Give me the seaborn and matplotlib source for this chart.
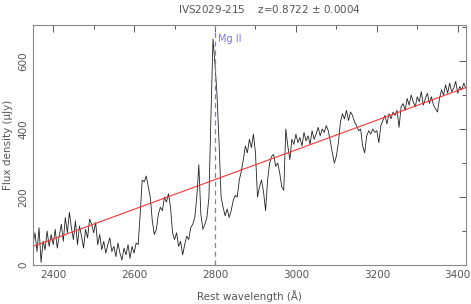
import numpy as np
import pandas as pd
import seaborn as sns
import matplotlib.pyplot as plt
from matplotlib.ticker import MultipleLocator

# espectro (passo de 5 A, de 2350 a 3420 A)
wave_start = 2350
wave_step = 5
flux = [
    60, 95, 40, 110, 8, 70, 45, 100, 55, 90,
    60, 105, 50, 85, 120, 70, 140, 95, 155, 110,
    75, 130, 60, 115, 85, 50, 105, 80, 135, 120,
    95, 125, 60, 90, 45, 70, 35, 60, 80, 40,
    55, 25, 65, 35, 15, 50, 30, 60, 20, 55,
    35, 65, 60, 150, 250, 245, 262, 230, 200, 130,
    90, 105, 150, 170, 160, 200, 185, 210, 170, 95,
    75, 95, 55, 70, 30, 60, 85, 75, 110, 120,
    140, 200, 295, 150, 105, 120, 140, 200, 440, 665,
    590, 500, 360, 200, 170, 145, 165, 140, 160, 190,
    205, 200, 250, 275, 310, 350, 330, 370, 345, 385,
    330, 200, 230, 250, 215, 160, 250, 300, 320, 325,
    290, 300, 270, 230, 220, 400, 350, 310, 370, 355,
    385, 360, 375, 350, 390, 365, 380, 355, 395, 370,
    385, 405, 380, 400, 390, 410, 395, 365, 330, 300,
    320, 360, 420, 445, 430, 455, 425, 450, 440, 420,
    410, 395, 400, 350, 330, 380, 395, 385, 400, 390,
    395, 360, 410, 425, 440, 415, 445, 430, 450, 440,
    455, 405, 465, 475, 455, 490, 470, 500, 480, 465,
    495, 480, 510, 470, 490, 505, 475, 495, 470, 460,
    450, 490, 515, 500, 530, 505, 535, 510, 520, 540,
    505, 525, 515, 535, 520,
]
wave = wave_start + wave_step * np.arange(len(flux))

# ajuste do continuo (reta)
cont_wave = [2350, 3420]
cont_flux = [55, 522]

line_wave = 2800
line_name = "Mg II"
title = "IVS2029-215    z=0.8722 $\\pm$ 0.0004"

df = pd.DataFrame({"wave": wave, "flux": flux})
df_cont = pd.DataFrame({"wave": cont_wave, "flux": cont_flux})

sns.set_style("white")
plt.rcParams['font.family'] = ['DejaVu Sans']
gray = "#555555"

fig = plt.figure(figsize=(4.71, 3.04), dpi=100)
ax = fig.add_axes([0.070, 0.128, 0.919, 0.790])

sns.lineplot(x="wave", y="flux", data=df, color="#222222", linewidth=0.6,
             estimator=None, sort=False, ax=ax)
sns.lineplot(x="wave", y="flux", data=df_cont, color="#ff3333", linewidth=0.8,
             estimator=None, ax=ax)
ax.axvline(line_wave, color="#7777ee", linestyle=(0, (4, 3)), linewidth=0.9)
ax.text(line_wave + 8, 665, line_name, color="#7777ee", fontsize=7,
        va="center", ha="left")

ax.set_xlim(2350, 3420)
ax.set_ylim(0, 706)
ax.xaxis.set_major_locator(MultipleLocator(200))
ax.xaxis.set_minor_locator(MultipleLocator(100))
ax.yaxis.set_major_locator(MultipleLocator(200))
ax.yaxis.set_minor_locator(MultipleLocator(100))
ax.tick_params(which="both", direction="in", top=True, right=True,
               colors=gray, labelcolor=gray, labelsize=7.5, width=0.7)
ax.tick_params(which="major", length=5)
ax.tick_params(which="minor", length=3)
for lab in ax.get_yticklabels():
    lab.set_rotation(90)
    lab.set_va("center")
for s in ax.spines.values():
    s.set_color("#888888")
    s.set_linewidth(0.8)

ax.set_xlabel("Rest wavelength (Å)", color=gray, fontsize=7.5, labelpad=7)
ax.set_ylabel("Flux density (μJy)", color=gray, fontsize=7.5, labelpad=4)
fig.text(270 / 471, 1 - 9 / 304, title, color=gray, fontsize=7.5,
         ha="center", va="center")

plt.savefig("out.png", dpi=100)
